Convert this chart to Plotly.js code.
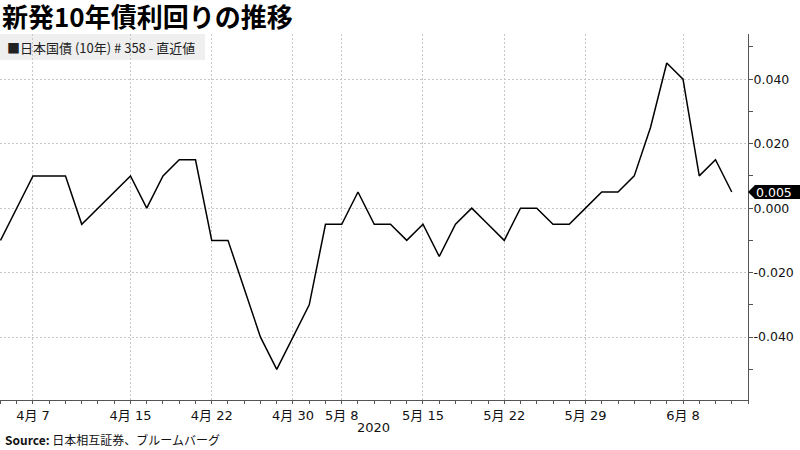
<!DOCTYPE html>
<html>
<head>
<meta charset="utf-8">
<script src="https://cdn.plot.ly/plotly-3.0.1.min.js"></script>
<style>html,body{margin:0;padding:0;background:#fff;}#chart{width:800px;height:450px;}</style>
</head>
<body>
<div id="chart"></div>
<script>
// Trading days (Japan), 2020
const dates = [
  "2020-04-03","2020-04-06","2020-04-07","2020-04-08","2020-04-09","2020-04-10",
  "2020-04-13","2020-04-14","2020-04-15","2020-04-16","2020-04-17",
  "2020-04-20","2020-04-21","2020-04-22","2020-04-23","2020-04-24",
  "2020-04-27","2020-04-28","2020-04-30","2020-05-01",
  "2020-05-07","2020-05-08",
  "2020-05-11","2020-05-12","2020-05-13","2020-05-14","2020-05-15",
  "2020-05-18","2020-05-19","2020-05-20","2020-05-21","2020-05-22",
  "2020-05-25","2020-05-26","2020-05-27","2020-05-28","2020-05-29",
  "2020-06-01","2020-06-02","2020-06-03","2020-06-04","2020-06-05",
  "2020-06-08","2020-06-09","2020-06-10","2020-06-11"
];
const yields = [
  -0.010, 0.000, 0.010, 0.010, 0.010, -0.005,
  0.000, 0.005, 0.010, 0.000, 0.010,
  0.015, 0.015, -0.010, -0.010, -0.025,
  -0.040, -0.050, -0.040, -0.030,
  -0.005, -0.005,
  0.005, -0.005, -0.005, -0.010, -0.005,
  -0.015, -0.005, 0.000, -0.005, -0.010,
  0.000, 0.000, -0.005, -0.005, 0.000,
  0.005, 0.005, 0.010, 0.025, 0.045,
  0.040, 0.010, 0.015, 0.005
];
const tickDates  = ["2020-04-07","2020-04-15","2020-04-22","2020-04-30","2020-05-08","2020-05-15","2020-05-22","2020-05-29","2020-06-08"];
const tickLabels = ["4月 7","4月 15","4月 22","4月 30","5月 8","5月 15","5月 22","5月 29","6月 8"];
const yTicks = [-0.04, -0.02, 0, 0.02, 0.04];
const yMinorTicks = [-0.05, -0.03, -0.01, 0.01, 0.03, 0.05];

const titleText = "新発10年債利回りの推移";
const legendText = "■日本国債 (10年) # 358 - 直近値";
const sourceText = "<b>Source:</b> 日本相互証券、ブルームバーグ";
const yearText = "2020";

const idx = dates.map((d, i) => i);
const tickIdx = tickDates.map(d => dates.indexOf(d));
const yTickText = yTicks.map(v => v.toFixed(3));
const lastVal = yields[yields.length - 1];

const W = 800, H = 450;
const M = {l: 0, r: 52, t: 34, b: 50};
const PW = W - M.l - M.r, PH = H - M.t - M.b;
const px = p => p / PW;               // pixel offset -> paper x
const py = p => 1 - (p - M.t) / PH;   // absolute pixel y -> paper y
const yRange = [-0.0595, 0.054];
const dy = p => p * (yRange[1] - yRange[0]) / PH;

const font = "DejaVu Sans, Noto Sans CJK JP, sans-serif";
const cjk = "Noto Sans CJK JP, sans-serif";
const gridDash = "2px,2px";
const gridColor = "#c8c8c8";

const trace = {
  x: idx, y: yields, type: "scatter", mode: "lines",
  line: {color: "#000", width: 1.5}, hoverinfo: "skip"
};

const layout = {
  width: W, height: H,
  margin: M,
  paper_bgcolor: "#fff", plot_bgcolor: "#fff",
  showlegend: false,
  font: {family: font, size: 12, color: "#111"},
  title: {
    text: "<b>" + titleText + "</b>",
    font: {family: cjk, size: 26, color: "#000"},
    x: 2 / W, xref: "container", xanchor: "left",
    y: 1 - 18 / H, yref: "container", yanchor: "middle"
  },
  xaxis: {
    range: [-0.03, dates.length],
    tickvals: tickIdx, ticktext: tickLabels,
    showgrid: true, gridcolor: gridColor, griddash: gridDash, gridwidth: 1,
    zeroline: false,
    showline: true, linecolor: "#555", linewidth: 1,
    ticks: "outside", ticklen: 3, tickcolor: "#555",
    tickfont: {family: font, size: 13, color: "#111"},
    minor: {dtick: 1, tick0: 0, ticks: "outside", ticklen: 3, tickcolor: "#555", showgrid: false},
    fixedrange: true
  },
  yaxis: {
    side: "right",
    range: yRange,
    tickvals: yTicks, ticktext: yTickText,
    showgrid: true, gridcolor: gridColor, griddash: gridDash, gridwidth: 1,
    zeroline: false,
    showline: true, linecolor: "#555", linewidth: 1,
    ticks: "outside", ticklen: 4, tickcolor: "#555",
    ticklabelstandoff: -2,
    tickfont: {family: font, size: 12.5, color: "#111"},
    minor: {tickvals: yMinorTicks, ticks: "outside", ticklen: 4, tickcolor: "#555", showgrid: false},
    fixedrange: true
  },
  shapes: [
    {type: "rect", xref: "paper", yref: "paper", x0: 0, x1: px(205), y0: py(60), y1: 1,
     fillcolor: "#efefef", line: {width: 0}, layer: "below"},
    {type: "path", xref: "paper", yref: "y",
     path: "M 1 " + lastVal +
           " L " + (1 + px(7)) + " " + (lastVal + dy(7)) +
           " L " + (1 + px(52)) + " " + (lastVal + dy(7)) +
           " L " + (1 + px(52)) + " " + (lastVal - dy(7)) +
           " L " + (1 + px(7)) + " " + (lastVal - dy(7)) + " Z",
     fillcolor: "#000", line: {width: 0}, layer: "above"}
  ],
  annotations: [
    {text: legendText, xref: "paper", yref: "paper", x: px(5), y: py(47),
     xanchor: "left", yanchor: "middle", showarrow: false,
     font: {family: cjk, size: 13, color: "#222"}},
    {text: lastVal.toFixed(3), xref: "paper", yref: "y", x: 1 + px(6), y: lastVal,
     xanchor: "left", yanchor: "middle", showarrow: false,
     font: {family: font, size: 12.5, color: "#fff"}},
    {text: yearText, xref: "paper", yref: "paper", x: px(373), y: py(427),
     xanchor: "center", yanchor: "middle", showarrow: false,
     font: {family: font, size: 13, color: "#111"}},
    {text: sourceText, xref: "paper", yref: "paper", x: px(3), y: py(440),
     xanchor: "left", yanchor: "middle", showarrow: false,
     font: {family: cjk, size: 12, color: "#111"}}
  ],
  hovermode: false
};

Plotly.newPlot("chart", [trace], layout, {displayModeBar: false, staticPlot: true});
</script>
</body>
</html>
